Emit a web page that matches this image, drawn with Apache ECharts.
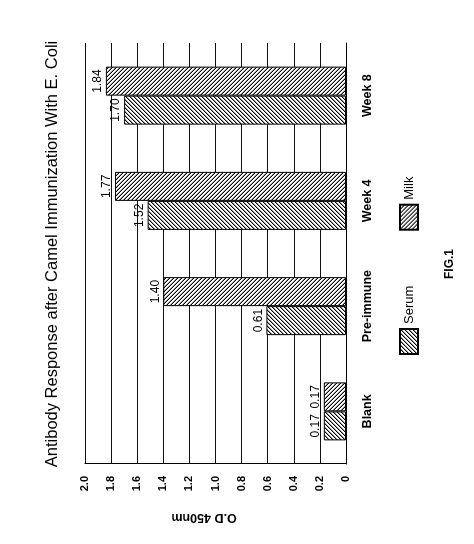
<!DOCTYPE html>
<html lang="en">
<head>
    <meta charset="UTF-8">
    <title>FIG.1 | Antibody Response</title>
    <script src="https://cdn.jsdelivr.net/npm/echarts@6/dist/echarts.min.js"></script>
    <style>
        html, body {
            margin: 0;
            padding: 0;
            width: 474px;
            height: 544px;
            overflow: hidden;
            background: #fff;
        }
        /* the figure is printed sideways, so the chart is drawn upright and turned a quarter left */
        #main {
            position: absolute;
            left: 0;
            top: 0;
            width: 544px;
            height: 474px;
            transform-origin: 0 0;
            transform: translate(0, 544px) rotate(-90deg);
        }
    </style>
</head>
<body>
<div id="main"></div>
<script type="text/javascript">
    const categories = ['Blank', 'Pre-immune', 'Week 4', 'Week 8']
    const serumValues = [0.17, 0.61, 1.52, 1.70]
    const milkValues = [0.17, 1.40, 1.77, 1.84]
    const seriesNames = ['Serum', 'Milk']
    const titleText = 'Antibody Response after Camel Immunization With E. Coli'
    const axisName = 'O.D 450nm'
    const figText = 'FIG.1'

    const font = '"Liberation Sans", Arial, sans-serif'

    // crisp diagonal hatch tile, '/' or '\': a black pixel line with a grey edge, every `step` px
    function hatch(dir, step) {
        let cvs = document.createElement('canvas')
        cvs.width = step
        cvs.height = step
        let ctx = cvs.getContext('2d')
        ctx.fillStyle = '#fff'
        ctx.fillRect(0, 0, step, step)
        for (let i = 0; i < step; i++) {
            for (let j = 0; j < step; j++) {
                let d = dir === '/' ? (i + j) % step : (i - j + step) % step
                if (d === 0) {
                    ctx.fillStyle = '#000'
                    ctx.fillRect(i, j, 1, 1)
                } else if (d === 1) {
                    ctx.fillStyle = '#999'
                    ctx.fillRect(i, j, 1, 1)
                }
            }
        }
        return {image: cvs, repeat: 'repeat'}
    }

    let chart = echarts.init(document.getElementById('main'), null, {width: 544, height: 474})

    const barLabel = {
        show: true,
        position: 'top',
        distance: 2,
        color: '#000',
        fontSize: 12,
        fontFamily: font,
        formatter: function (p) {
            return p.value.toFixed(2)
        }
    }

    let option = {
        backgroundColor: '#fff',
        animation: false,
        title: [{
            text: titleText,
            left: 290,
            top: 44,
            padding: 0,
            textAlign: 'center',
            textVerticalAlign: 'top',
            textStyle: {fontSize: 16.5, fontWeight: 'normal', color: '#000', fontFamily: font}
        }, {
            text: figText,
            left: 280,
            top: 444,
            padding: 0,
            textAlign: 'center',
            textVerticalAlign: 'top',
            textStyle: {fontSize: 12, fontWeight: 'bold', color: '#000', fontFamily: font}
        }],
        legend: {
            data: seriesNames,
            left: 189,
            top: 399,
            padding: 0,
            icon: 'rect',
            itemWidth: 25,
            itemHeight: 18,
            itemGap: 55,
            textStyle: {fontSize: 13, color: '#000', fontFamily: font}
        },
        grid: {
            left: 80,
            right: 43,
            top: 85,
            bottom: 128
        },
        xAxis: {
            type: 'category',
            data: categories,
            axisLine: {show: true, lineStyle: {color: '#000', width: 1}},
            axisTick: {show: false},
            axisLabel: {
                margin: 15,
                fontSize: 12.5,
                fontWeight: 'bold',
                color: '#000',
                fontFamily: font
            }
        },
        yAxis: {
            type: 'value',
            min: 0,
            max: 2,
            interval: 0.2,
            name: axisName,
            nameLocation: 'middle',
            nameRotate: 90,
            nameGap: 47,
            nameTextStyle: {
                fontSize: 12.5,
                fontWeight: 'bold',
                color: '#000',
                fontFamily: font,
                padding: [0, 0, 0, 23]
            },
            axisLine: {show: true, lineStyle: {color: '#000', width: 1}},
            axisTick: {show: false},
            splitLine: {show: true, lineStyle: {color: '#111', width: 1}},
            axisLabel: {
                margin: 12,
                fontSize: 11,
                fontWeight: 'bold',
                color: '#000',
                fontFamily: font,
                formatter: function (v) {
                    return v === 0 ? '0' : v.toFixed(1)
                }
            }
        },
        series: [{
            name: seriesNames[0],
            type: 'bar',
            data: serumValues,
            barWidth: 29,
            barGap: '0%',
            itemStyle: {color: hatch('/', 4), borderColor: '#000', borderWidth: 1},
            label: barLabel
        }, {
            name: seriesNames[1],
            type: 'bar',
            data: milkValues,
            barWidth: 29,
            barGap: '0%',
            itemStyle: {color: hatch('\\', 4), borderColor: '#000', borderWidth: 1},
            label: barLabel
        }]
    }
    chart.setOption(option)
</script>
</body>
</html>
